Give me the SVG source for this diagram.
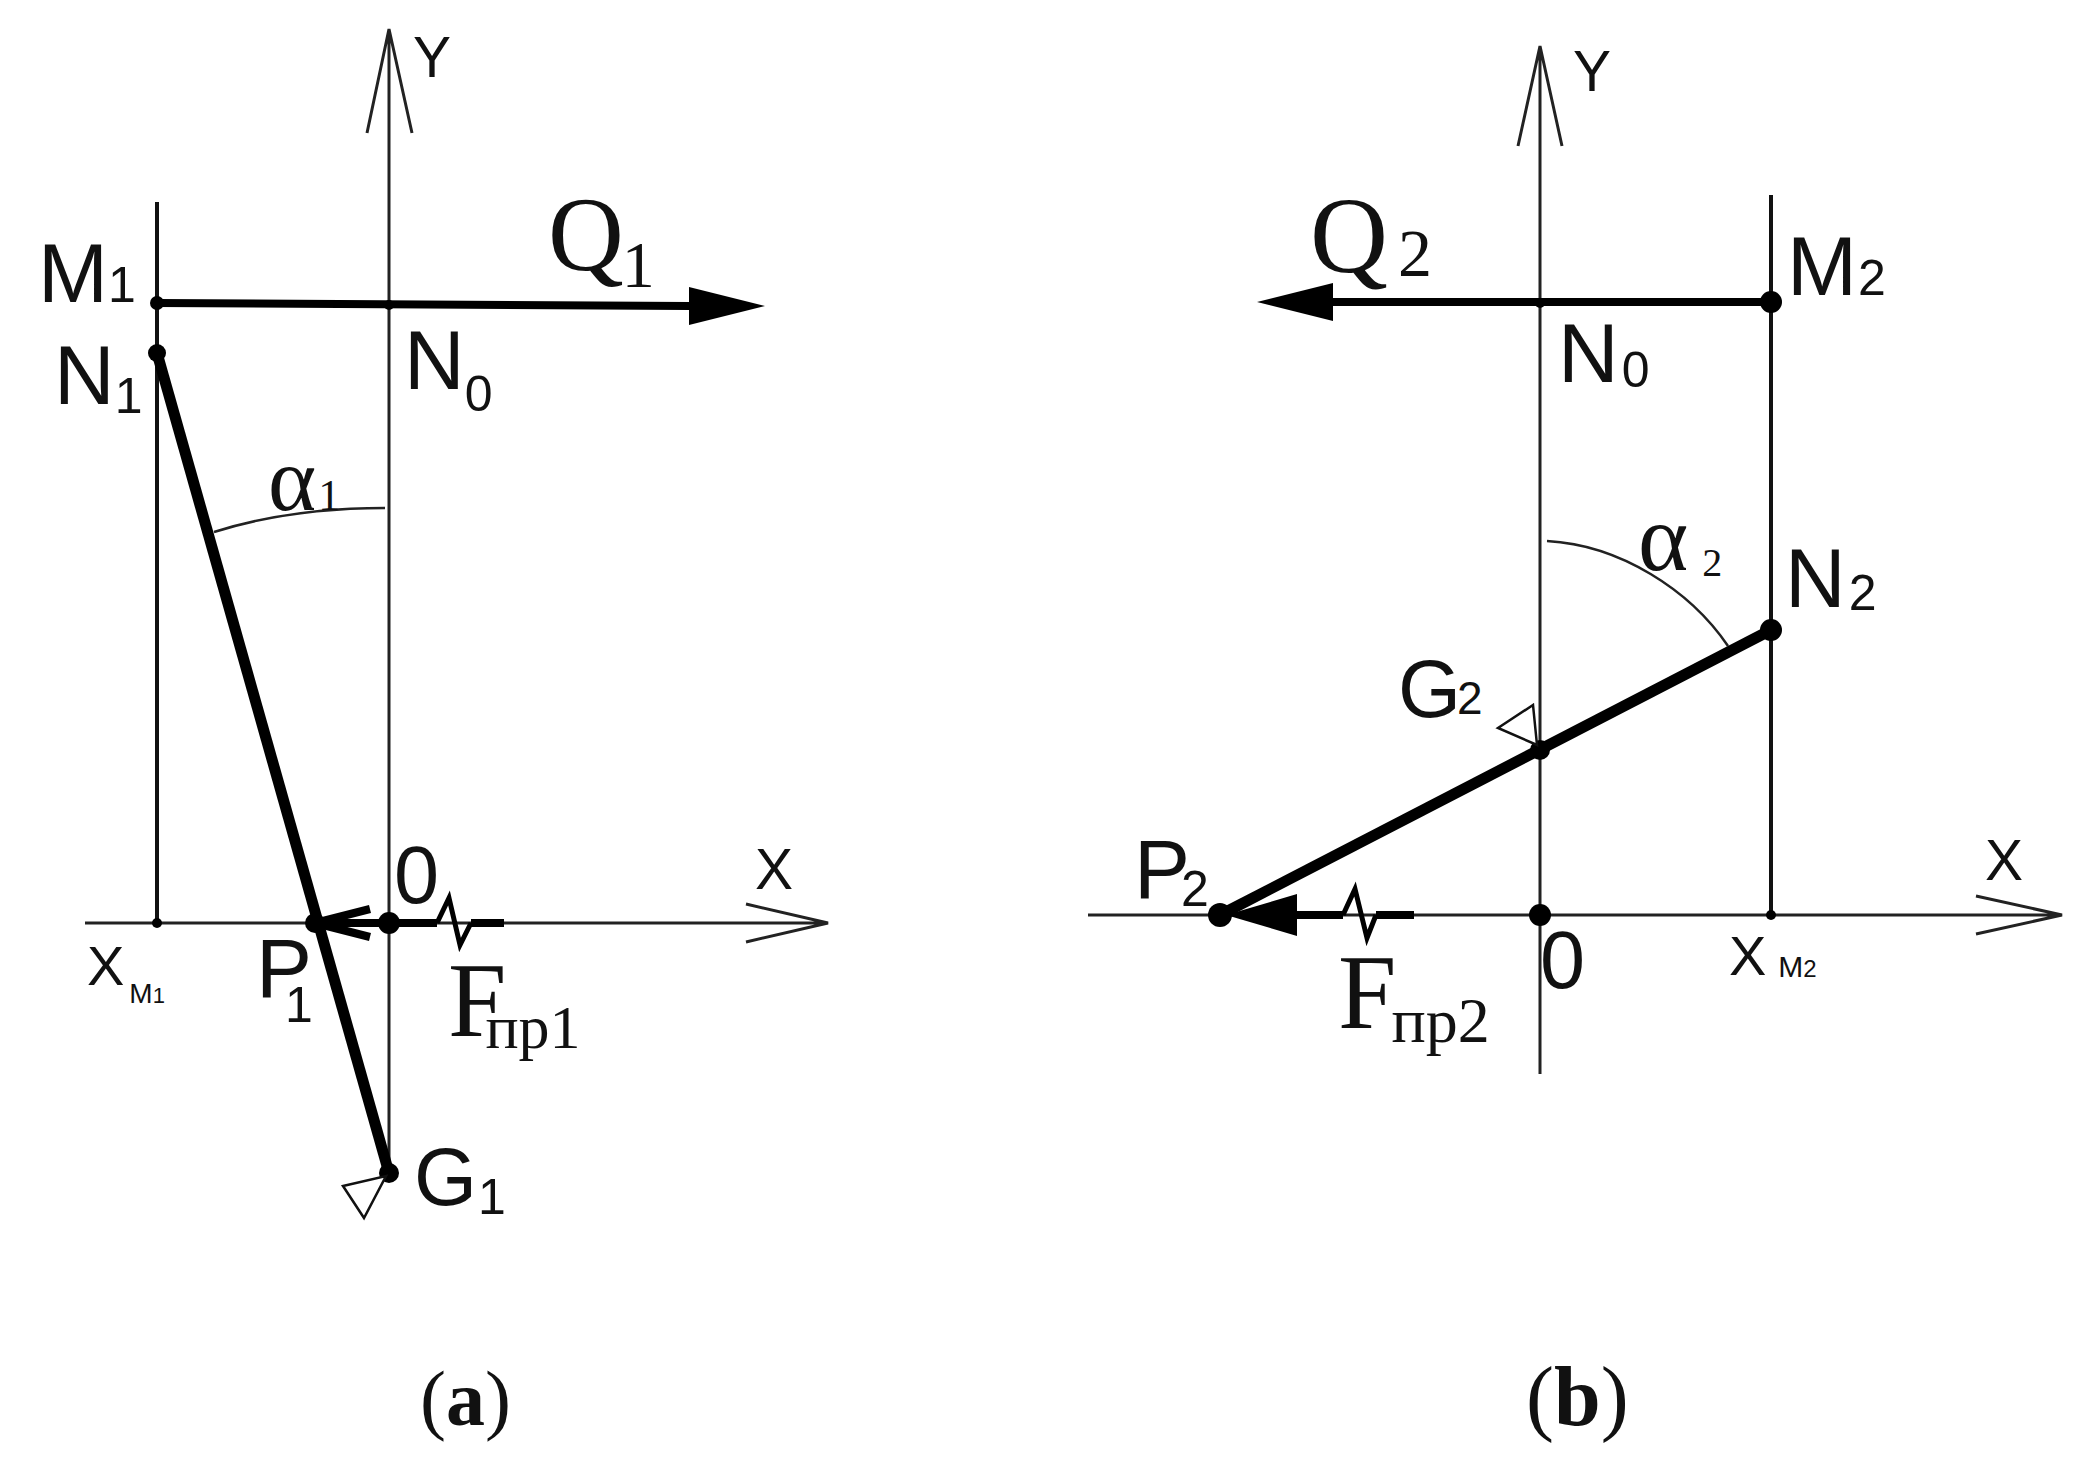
<svg xmlns="http://www.w3.org/2000/svg" width="2079" height="1465" viewBox="0 0 2079 1465">
<style>
.t{fill:none;stroke:#222;stroke-width:3}
.m{fill:none;stroke:#111;stroke-width:4}
.z{fill:none;stroke:#000;stroke-width:5}
.b{fill:none;stroke:#000;stroke-width:11}
.f{fill:none;stroke:#000;stroke-width:8}
.a{fill:none;stroke:#222;stroke-width:2.5}
.k{fill:#000;stroke:none}
.o{fill:#fff;stroke:#111;stroke-width:2.5}
text{fill:#111}
.s{font-family:"Liberation Sans",Arial,sans-serif}
.r{font-family:"Liberation Serif","Times New Roman",serif}
.l{font-size:84px}
.x{font-size:57px}
.n{font-size:50px}
</style>
<rect width="2079" height="1465" fill="#fff"/>
<g id="connectors">
<g id="axes-a">
<path class="t" d="M389 29V1173M367 133L389 29L412 133"/>
<path class="t" d="M85 923H828M746 904L828 923L746 942"/>
<path class="m" d="M157 202V923"/>
<path class="a" d="M214 532Q290 508 385 508"/>
</g>
<g id="axes-b">
<path class="t" d="M1540 46V1074M1518 146L1540 46L1562 146"/>
<path class="t" d="M1088 915H2062M1976 896L2062 915L1976 934"/>
<path class="m" d="M1771 195V915"/>
<path class="a" d="M1547 541C1620 545 1690 590 1728 646"/>
</g>
<g id="forces-a">
<path class="f" d="M157 303L689 306"/>
<polygon class="k" points="689,287 765,306 689,325"/>
<path class="b" d="M157 353L389 1173"/>
<path class="f" d="M315 923H437M471 923H504M370 909L315 923L370 937"/>
<path class="z" d="M437 923L449 898L460 945L471 923"/>
</g>
<g id="forces-b">
<path class="f" d="M1771 302H1333"/>
<polygon class="k" points="1333,283 1257,302 1333,321"/>
<path class="b" d="M1771 630L1220 915"/>
<path class="f" d="M1297 915H1343M1376 915H1414"/>
<polygon class="k" points="1297,894 1226,915 1297,936"/>
<path class="z" d="M1343 915L1355 889L1367 938L1376 915"/>
</g>
</g>
<g id="panel-a">
<g id="M1"><circle class="k" cx="157" cy="303" r="7"/><text class="s l" x="38" y="302">M<tspan class="n">1</tspan></text></g>
<g id="N1"><circle class="k" cx="157" cy="353" r="9"/><text class="s l" x="54" y="404">N<tspan class="n" dy="9">1</tspan></text></g>
<g id="N0a"><circle class="k" cx="389" cy="305" r="5"/><text class="s l" x="404" y="389">N<tspan class="n" dy="22">0</tspan></text></g>
<g id="Q1"><text class="r" font-size="105" x="548" y="270">Q<tspan font-size="66" dy="17" dx="-2">1</tspan></text></g>
<g id="alpha1"><text class="r" font-size="92" x="268" y="510">α<tspan font-size="44" dx="2">1</tspan></text></g>
<g id="Y-a"><text class="s x" x="413" y="77">Y</text></g>
<g id="X-a"><text class="s x" x="755" y="889">X</text></g>
<g id="O-a"><circle class="k" cx="389" cy="923" r="11"/><text class="s" font-size="81" x="394" y="903">0</text></g>
<g id="XM1"><circle class="k" cx="157" cy="923" r="5"/><text class="s" font-size="56" x="87" y="985">X<tspan font-size="28" dy="18" dx="5">M<tspan font-size="22">1</tspan></tspan></text></g>
<g id="P1"><circle class="k" cx="315" cy="923" r="10"/><text class="s l" x="256" y="997">P<tspan class="n" dx="-27" dy="25">1</tspan></text></g>
<g id="Fpr1"><text class="r" font-size="105" x="448" y="1036">F<tspan font-size="62" dx="-21" dy="12">пр1</tspan></text></g>
<g id="G1"><circle class="k" cx="389" cy="1173" r="10"/><polygon class="o" points="343,1186 386,1176 364,1218"/><text class="s" font-size="81" x="414" y="1205">G<tspan class="n" dx="1" dy="9">1</tspan></text></g>
<g id="caption-a"><text class="r" font-size="78" x="420" y="1425">(<tspan font-weight="bold">a</tspan>)</text></g>
</g>
<g id="panel-b">
<g id="M2"><circle class="k" cx="1771" cy="302" r="11"/><text class="s l" x="1787" y="295">M<tspan class="n" dx="1">2</tspan></text></g>
<g id="N2"><circle class="k" cx="1771" cy="630" r="11"/><text class="s l" x="1785" y="607">N<tspan class="n" dx="3" dy="3">2</tspan></text></g>
<g id="N0b"><circle class="k" cx="1540" cy="303" r="5"/><text class="s l" x="1558" y="382">N<tspan class="n" dx="3" dy="5">0</tspan></text></g>
<g id="Q2"><text class="r" font-size="108" x="1310" y="272">Q<tspan font-size="68" dx="10" dy="4">2</tspan></text></g>
<g id="alpha2"><text class="r" font-size="96" x="1638" y="570">α<tspan font-size="40" dx="14" dy="6">2</tspan></text></g>
<g id="Y-b"><text class="s x" x="1573" y="91">Y</text></g>
<g id="X-b"><text class="s x" x="1985" y="880">X</text></g>
<g id="O-b"><circle class="k" cx="1540" cy="915" r="11"/><text class="s" font-size="81" x="1540" y="988">0</text></g>
<g id="XM2"><circle class="k" cx="1771" cy="915" r="5"/><text class="s" font-size="56" x="1729" y="975">X<tspan font-size="30" dx="12" dy="2">M<tspan font-size="24">2</tspan></tspan></text></g>
<g id="P2"><circle class="k" cx="1220" cy="915" r="12"/><text class="s l" x="1134" y="898">P<tspan class="n" dx="-9" dy="8">2</tspan></text></g>
<g id="Fpr2"><text class="r" font-size="105" x="1338" y="1028">F<tspan font-size="64" dx="-5" dy="14">пр2</tspan></text></g>
<g id="G2"><circle class="k" cx="1540" cy="750" r="10"/><polygon class="o" points="1533,705 1498,728 1537,745"/><text class="s" font-size="81" x="1398" y="717">G<tspan font-size="46" dx="-4" dy="-3">2</tspan></text></g>
<g id="caption-b"><text class="r" font-size="84" x="1526" y="1425">(<tspan font-weight="bold">b</tspan>)</text></g>
</g>
</svg>
